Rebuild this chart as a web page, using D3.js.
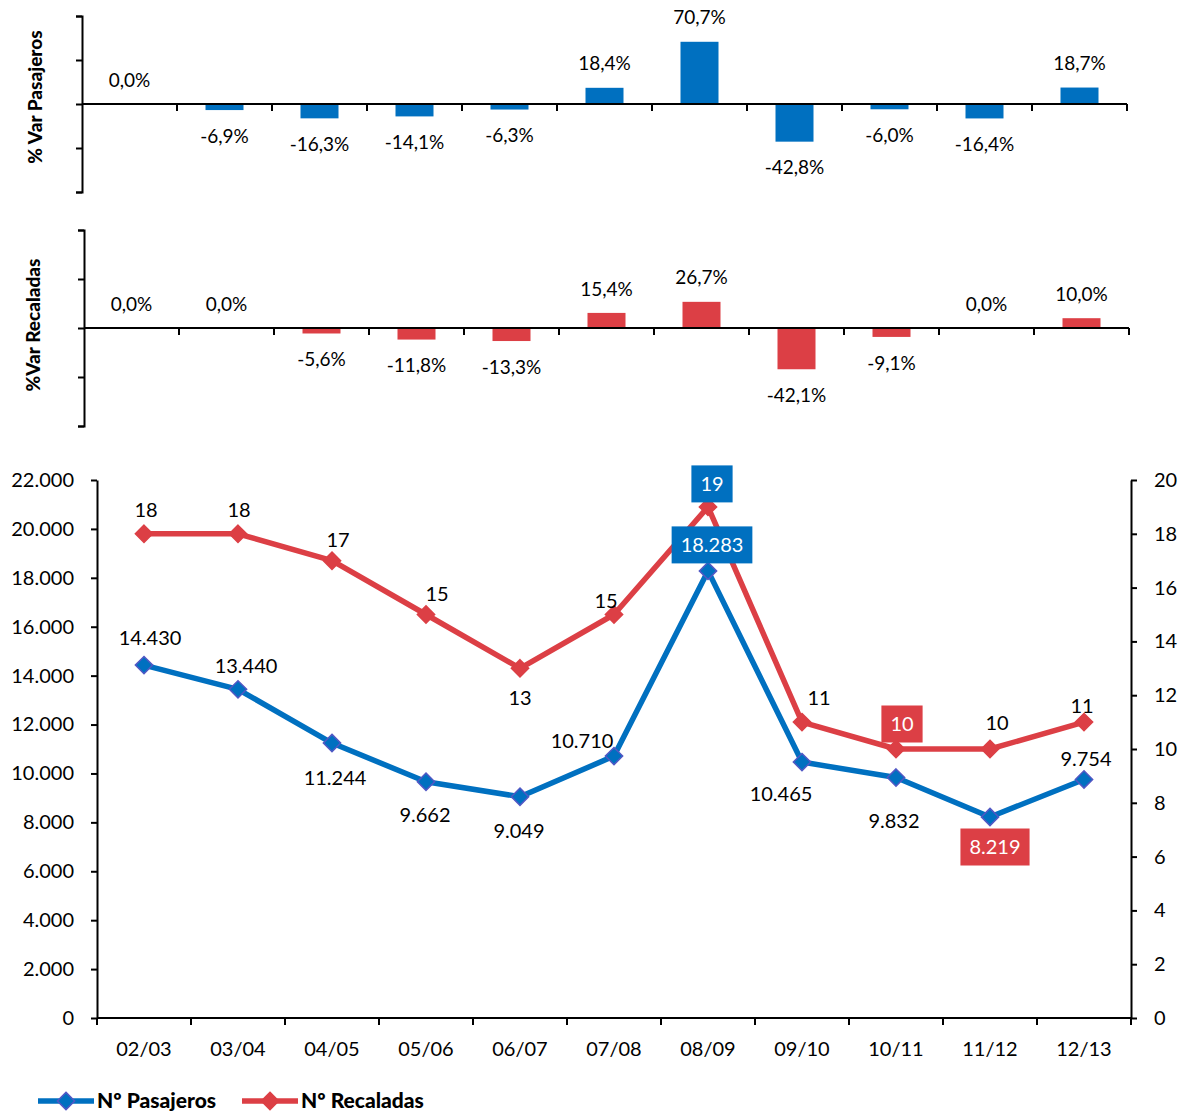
<!DOCTYPE html>
<head>
<meta charset="utf-8">
</head>
<style>
  body { margin: 0; background: #fff; }
  svg text { font-family: Lato, "Open Sans", sans-serif; fill: #000; }
  .lbl { font-size: 19px; }
  .big { font-size: 20px; }
  .ttl { font-size: 19px; font-weight: 900; }
  .leg { font-size: 21px; font-weight: 900; }
</style>
<body>
<script src="https://d3js.org/d3.v7.min.js"></script>
<script>

// data
var seasons = ["02/03","03/04","04/05","05/06","06/07","07/08","08/09","09/10","10/11","11/12","12/13"]
var varPasajeros = [0.0, -6.9, -16.3, -14.1, -6.3, 18.4, 70.7, -42.8, -6.0, -16.4, 18.7]
var varRecaladas = [0.0, 0.0, -5.6, -11.8, -13.3, 15.4, 26.7, -42.1, -9.1, 0.0, 10.0]
var pasajeros = [14430, 13440, 11244, 9662, 9049, 10710, 18283, 10465, 9832, 8219, 9754]
var recaladas = [18, 18, 17, 15, 13, 15, 19, 11, 10, 10, 11]
var leftTicks = d3.range(0, 22001, 2000)
var rightTicks = d3.range(0, 21, 2)

var BLUE = "#0070c0", RED = "#dc3f45", BLUE_EDGE = "#5157c4"

var svg = d3.select("body").append("svg")
    .attr("width", 1192)
    .attr("height", 1114)

var pct = function(v) { return v.toFixed(1).replace(".", ",") + "%" }
var thousands = function(v) { return d3.format(",")(v).replace(/,/g, ".") }

// ---- small bar charts of % variation ----
function varChart(values, color, x0, x1, yTop, yBottom, title, titleX, titleY) {
  var x = d3.scaleBand().domain(seasons).range([x0, x1])
  var y = d3.scaleLinear().domain([-100, 100]).range([yBottom, yTop])
  var g = svg.append("g")

  g.append("g")
      .attr("transform", "translate(" + x0 + ",0)")
      .call(d3.axisLeft(y).tickValues([-100, -50, 0, 50, 100]).tickFormat("").tickSize(6).tickSizeOuter(6))
      .call(function(a) { a.selectAll("path,line").attr("stroke", "#000").attr("stroke-width", 2) })

  g.selectAll(".bar")
      .data(values)
    .enter().append("rect")
      .attr("x", function(d, i) { return x(seasons[i]) + x.bandwidth() * 0.3 })
      .attr("width", x.bandwidth() * 0.4)
      .attr("y", function(d) { return y(Math.max(0, d)) })
      .attr("height", function(d) { return Math.abs(y(d) - y(0)) })
      .attr("fill", color)

  // category axis on zero line, ticks between categories
  g.append("line")
      .attr("x1", x0).attr("x2", x1)
      .attr("y1", y(0)).attr("y2", y(0))
      .attr("stroke", "#000").attr("stroke-width", 2)
  g.selectAll(".tk")
      .data(seasons.slice(1).map(function(s) { return x(s) }).concat([x1]))
    .enter().append("line")
      .attr("x1", function(d) { return d }).attr("x2", function(d) { return d })
      .attr("y1", y(0)).attr("y2", y(0) + 7)
      .attr("stroke", "#000").attr("stroke-width", 2)

  g.selectAll(".lbl")
      .data(values)
    .enter().append("text")
      .attr("class", "lbl")
      .attr("text-anchor", "middle")
      .attr("dy", "0.35em")
      .attr("x", function(d, i) { return x(seasons[i]) + x.bandwidth() / 2 })
      .attr("y", function(d) { return d < 0 ? y(d) + 26 : y(d) - 24 })
      .text(pct)

  g.append("text")
      .attr("class", "ttl")
      .attr("text-anchor", "middle")
      .attr("dy", "0.35em")
      .attr("transform", "translate(" + titleX + "," + titleY + ") rotate(-90)")
      .text(title)
}

varChart(varPasajeros, BLUE, 82, 1127, 16, 192, "% Var Pasajeros", 35, 97)
varChart(varRecaladas, RED, 84, 1129, 230, 426, "%Var Recaladas", 33, 325)

// ---- main line chart ----
var mL = 97, mR = 1131, mT = 480, mB = 1018
var x = d3.scaleBand().domain(seasons).range([mL, mR])
var yL = d3.scaleLinear().domain([0, 22000]).range([mB, mT])
var yR = d3.scaleLinear().domain([0, 20]).range([mB, mT])
var cx = function(i) { return x(seasons[i]) + x.bandwidth() / 2 }

var styleAxis = function(a) {
  a.selectAll("path,line").attr("stroke", "#000").attr("stroke-width", 2)
  a.selectAll("text").attr("class", "big").attr("font-family", null).attr("font-size", null)
}

svg.append("g")
    .attr("transform", "translate(" + mL + ",0)")
    .call(d3.axisLeft(yL).tickValues(leftTicks).tickFormat(thousands).tickSize(6).tickSizeOuter(0).tickPadding(17))
    .call(styleAxis)

svg.append("g")
    .attr("transform", "translate(" + mR + ",0)")
    .call(d3.axisRight(yR).tickValues(rightTicks).tickSize(6).tickSizeOuter(0).tickPadding(17))
    .call(styleAxis)

svg.append("line")
    .attr("x1", mL).attr("x2", mR).attr("y1", mB).attr("y2", mB)
    .attr("stroke", "#000").attr("stroke-width", 2)
svg.selectAll(".xtk")
    .data(seasons.map(function(s) { return x(s) }).concat([mR]))
  .enter().append("line")
    .attr("x1", function(d) { return d }).attr("x2", function(d) { return d })
    .attr("y1", mB).attr("y2", mB + 7)
    .attr("stroke", "#000").attr("stroke-width", 2)
svg.selectAll(".xlbl")
    .data(seasons)
  .enter().append("text")
    .attr("class", "big")
    .attr("text-anchor", "middle")
    .attr("dy", "0.35em")
    .attr("x", function(d, i) { return cx(i) })
    .attr("y", 1049)
    .text(function(d) { return d })

var diamond = d3.symbol().type(d3.symbolDiamond2).size(190)

function series(values, y, color, edge) {
  var line = d3.line()
      .x(function(d, i) { return cx(i) })
      .y(function(d) { return y(d) })
  svg.append("path")
      .datum(values)
      .attr("d", line)
      .attr("fill", "none")
      .attr("stroke", color)
      .attr("stroke-width", 5.5)
      .attr("stroke-linejoin", "round")
  svg.selectAll(null)
      .data(values)
    .enter().append("path")
      .attr("d", diamond)
      .attr("transform", function(d, i) { return "translate(" + cx(i) + "," + y(d) + ")" })
      .attr("fill", color)
      .attr("stroke", edge)
      .attr("stroke-width", 1.5)
}

series(recaladas, yR, RED, RED)
series(pasajeros, yL, BLUE, BLUE_EDGE)

// data labels: offset of label centre from its point, and optional box colour
var recLabelPos = [[2,-24],[1,-24],[6,-21],[11,-21],[0,30],[-8,-14],[4,-23,BLUE],[17,-24],[6,-25,RED],[7,-26],[-2,-16]]
var pasLabelPos = [[6,-27],[8,-23],[3,35],[-1,33],[-1,34],[-32,-15],[4,-26,BLUE],[-21,32],[-2,43],[5,30,RED],[2,-20]]

function labels(values, y, pos, fmt) {
  values.forEach(function(v, i) {
    var p = pos[i], tx = cx(i) + p[0], ty = y(v) + p[1]
    var t = svg.append("text")
        .attr("class", "big")
        .attr("text-anchor", "middle")
        .attr("dy", "0.35em")
        .attr("x", tx).attr("y", ty)
        .text(fmt(v))
    if (p[2]) {
      var w = t.node().getComputedTextLength() + 18
      svg.insert("rect", function() { return t.node() })
          .attr("x", tx - w / 2).attr("y", ty - 18.5)
          .attr("width", w).attr("height", 37)
          .attr("fill", p[2])
      t.style("fill", "#fff")
    }
  })
}

labels(recaladas, yR, recLabelPos, function(v) { return v })
labels(pasajeros, yL, pasLabelPos, thousands)

// legend
var legend = svg.selectAll(".legend")
    .data([["Nº Pasajeros", BLUE, BLUE_EDGE, 38], ["Nº Recaladas", RED, RED, 242]])
  .enter().append("g")
    .attr("transform", function(d) { return "translate(" + d[3] + ",1101)" })

legend.append("line")
    .attr("x1", 0).attr("x2", 56)
    .attr("stroke", function(d) { return d[1] })
    .attr("stroke-width", 5.5)
legend.append("path")
    .attr("d", diamond)
    .attr("transform", "translate(28,0)")
    .attr("fill", function(d) { return d[1] })
    .attr("stroke", function(d) { return d[2] })
    .attr("stroke-width", 1.5)
legend.append("text")
    .attr("class", "leg")
    .attr("x", 59)
    .attr("dy", "0.33em")
    .text(function(d) { return d[0] })

</script>
</body>
